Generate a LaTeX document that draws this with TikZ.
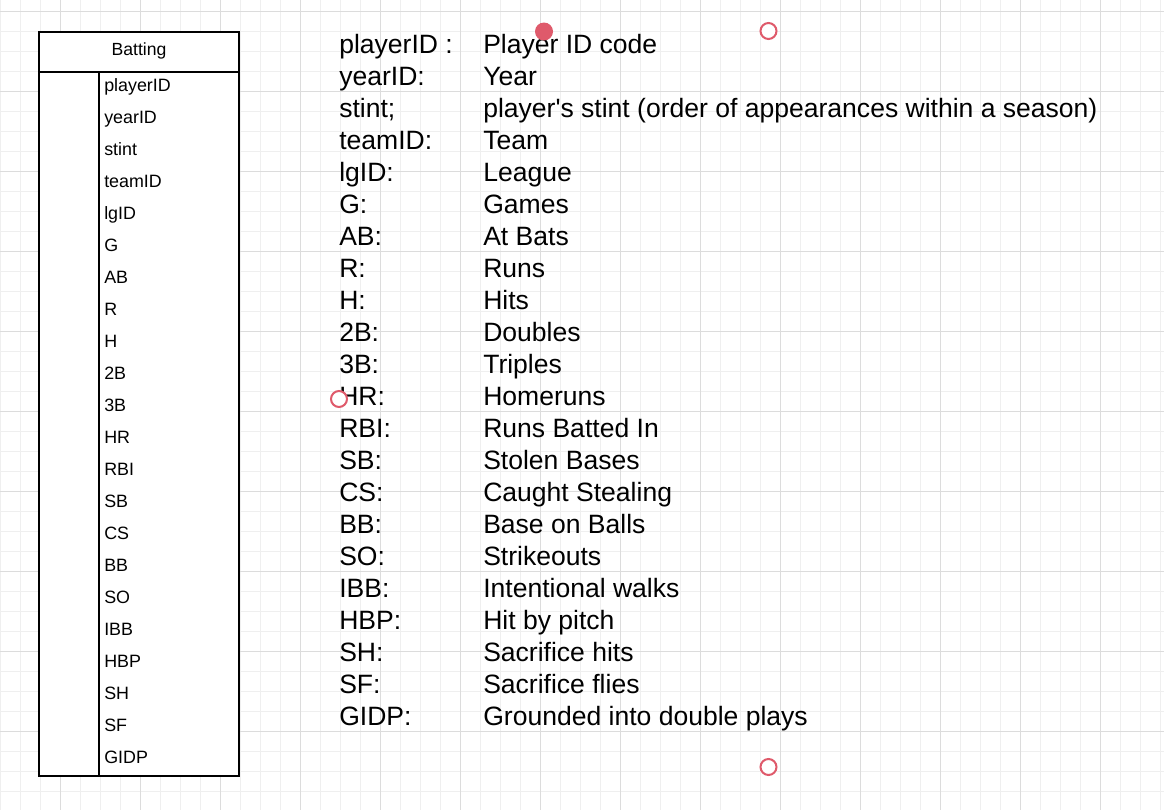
\documentclass[tikz,border=0pt]{standalone}
\usepackage{fontspec}
\setmainfont{Liberation Sans}
\definecolor{gridminor}{HTML}{EFEFEF}
\definecolor{gridmajor}{HTML}{DCDCDC}
\definecolor{marker}{HTML}{DF5A6B}
\begin{document}
\begin{tikzpicture}[x=0.75pt,y=-0.75pt,
  minorgrid/.style={draw=gridminor,line width=0.75pt},
  majorgrid/.style={draw=gridmajor,line width=0.75pt},
  tbl/.style={draw=black,line width=1.5pt},
  field/.style={anchor=base west,inner sep=0pt,font=\fontsize{13.4}{15}\selectfont},
  title/.style={anchor=base,inner sep=0pt,font=\fontsize{13.2}{15}\selectfont},
  lbl/.style={anchor=base west,inner sep=0pt,font=\fontsize{19.9}{24}\selectfont},
  hollow/.style={circle,draw=marker,line width=1.5pt,fill=white,minimum size=12pt,inner sep=0pt},
  filled/.style={circle,fill=marker,minimum size=13.5pt,inner sep=0pt}]
\useasboundingbox (0,0) rectangle (1164,810);
\fill[white] (0,0) rectangle (1164,810);
% grid
\foreach \i in {0,...,58} \draw[minorgrid] ({20*\i},0) -- ({20*\i},810);
\foreach \i in {0,...,41} \draw[minorgrid] (0,{20*\i-8.3}) -- (1164,{20*\i-8.3});
\foreach \i in {0,...,13} \draw[majorgrid] ({60+80*\i},0) -- ({60+80*\i},810);
\foreach \i in {0,...,10} \draw[majorgrid] (0,{11.7+80*\i}) -- (1164,{11.7+80*\i});
% table
\fill[white] (39,32) rectangle (239,776);
\draw[tbl] (39,32) rectangle (239,776);
\draw[tbl] (39,72) -- (239,72);
\draw[tbl] (99,72) -- (99,776);
\node[title] (title) at (139,55.7) {Batting};
\foreach \t [count=\i from 0] in {playerID,yearID,stint,teamID,lgID,G,AB,R,H,2B,3B,HR,RBI,SB,CS,BB,SO,IBB,HBP,SH,SF,GIDP}
  \node[field] (f\i) at (104,{91.7+32*\i}) {\t};
% legend
\foreach \a/\b [count=\i from 0] in {{playerID :}/{Player ID code},{yearID:}/{Year},{stint;}/{player\textquotesingle s stint (order of appearances within a season)},{teamID:}/{Team},{lgID:}/{League},{G:}/{Games},{AB:}/{At Bats},{R:}/{Runs},{H:}/{Hits},{2B:}/{Doubles},{3B:}/{Triples},{HR:}/{Homeruns},{RBI:}/{Runs Batted In},{SB:}/{Stolen Bases},{CS:}/{Caught Stealing},{BB:}/{Base on Balls},{SO:}/{Strikeouts},{IBB:}/{Intentional walks},{HBP:}/{Hit by pitch},{SH:}/{Sacrifice hits},{SF:}/{Sacrifice flies},{GIDP:}/{Grounded into double plays}}
{
  \node[lbl] (k\i) at (339,{53+32*\i}) {\a};
  \node[lbl] (d\i) at (483,{53+32*\i}) {\b};
}
% markers
\node[filled] (m1) at (544,31.5) {};
\node[hollow] (m2) at (768.5,31) {};
\node[hollow] (m3) at (339,399) {};
\node[hollow] (m4) at (768.5,767) {};
\end{tikzpicture}
\end{document}
